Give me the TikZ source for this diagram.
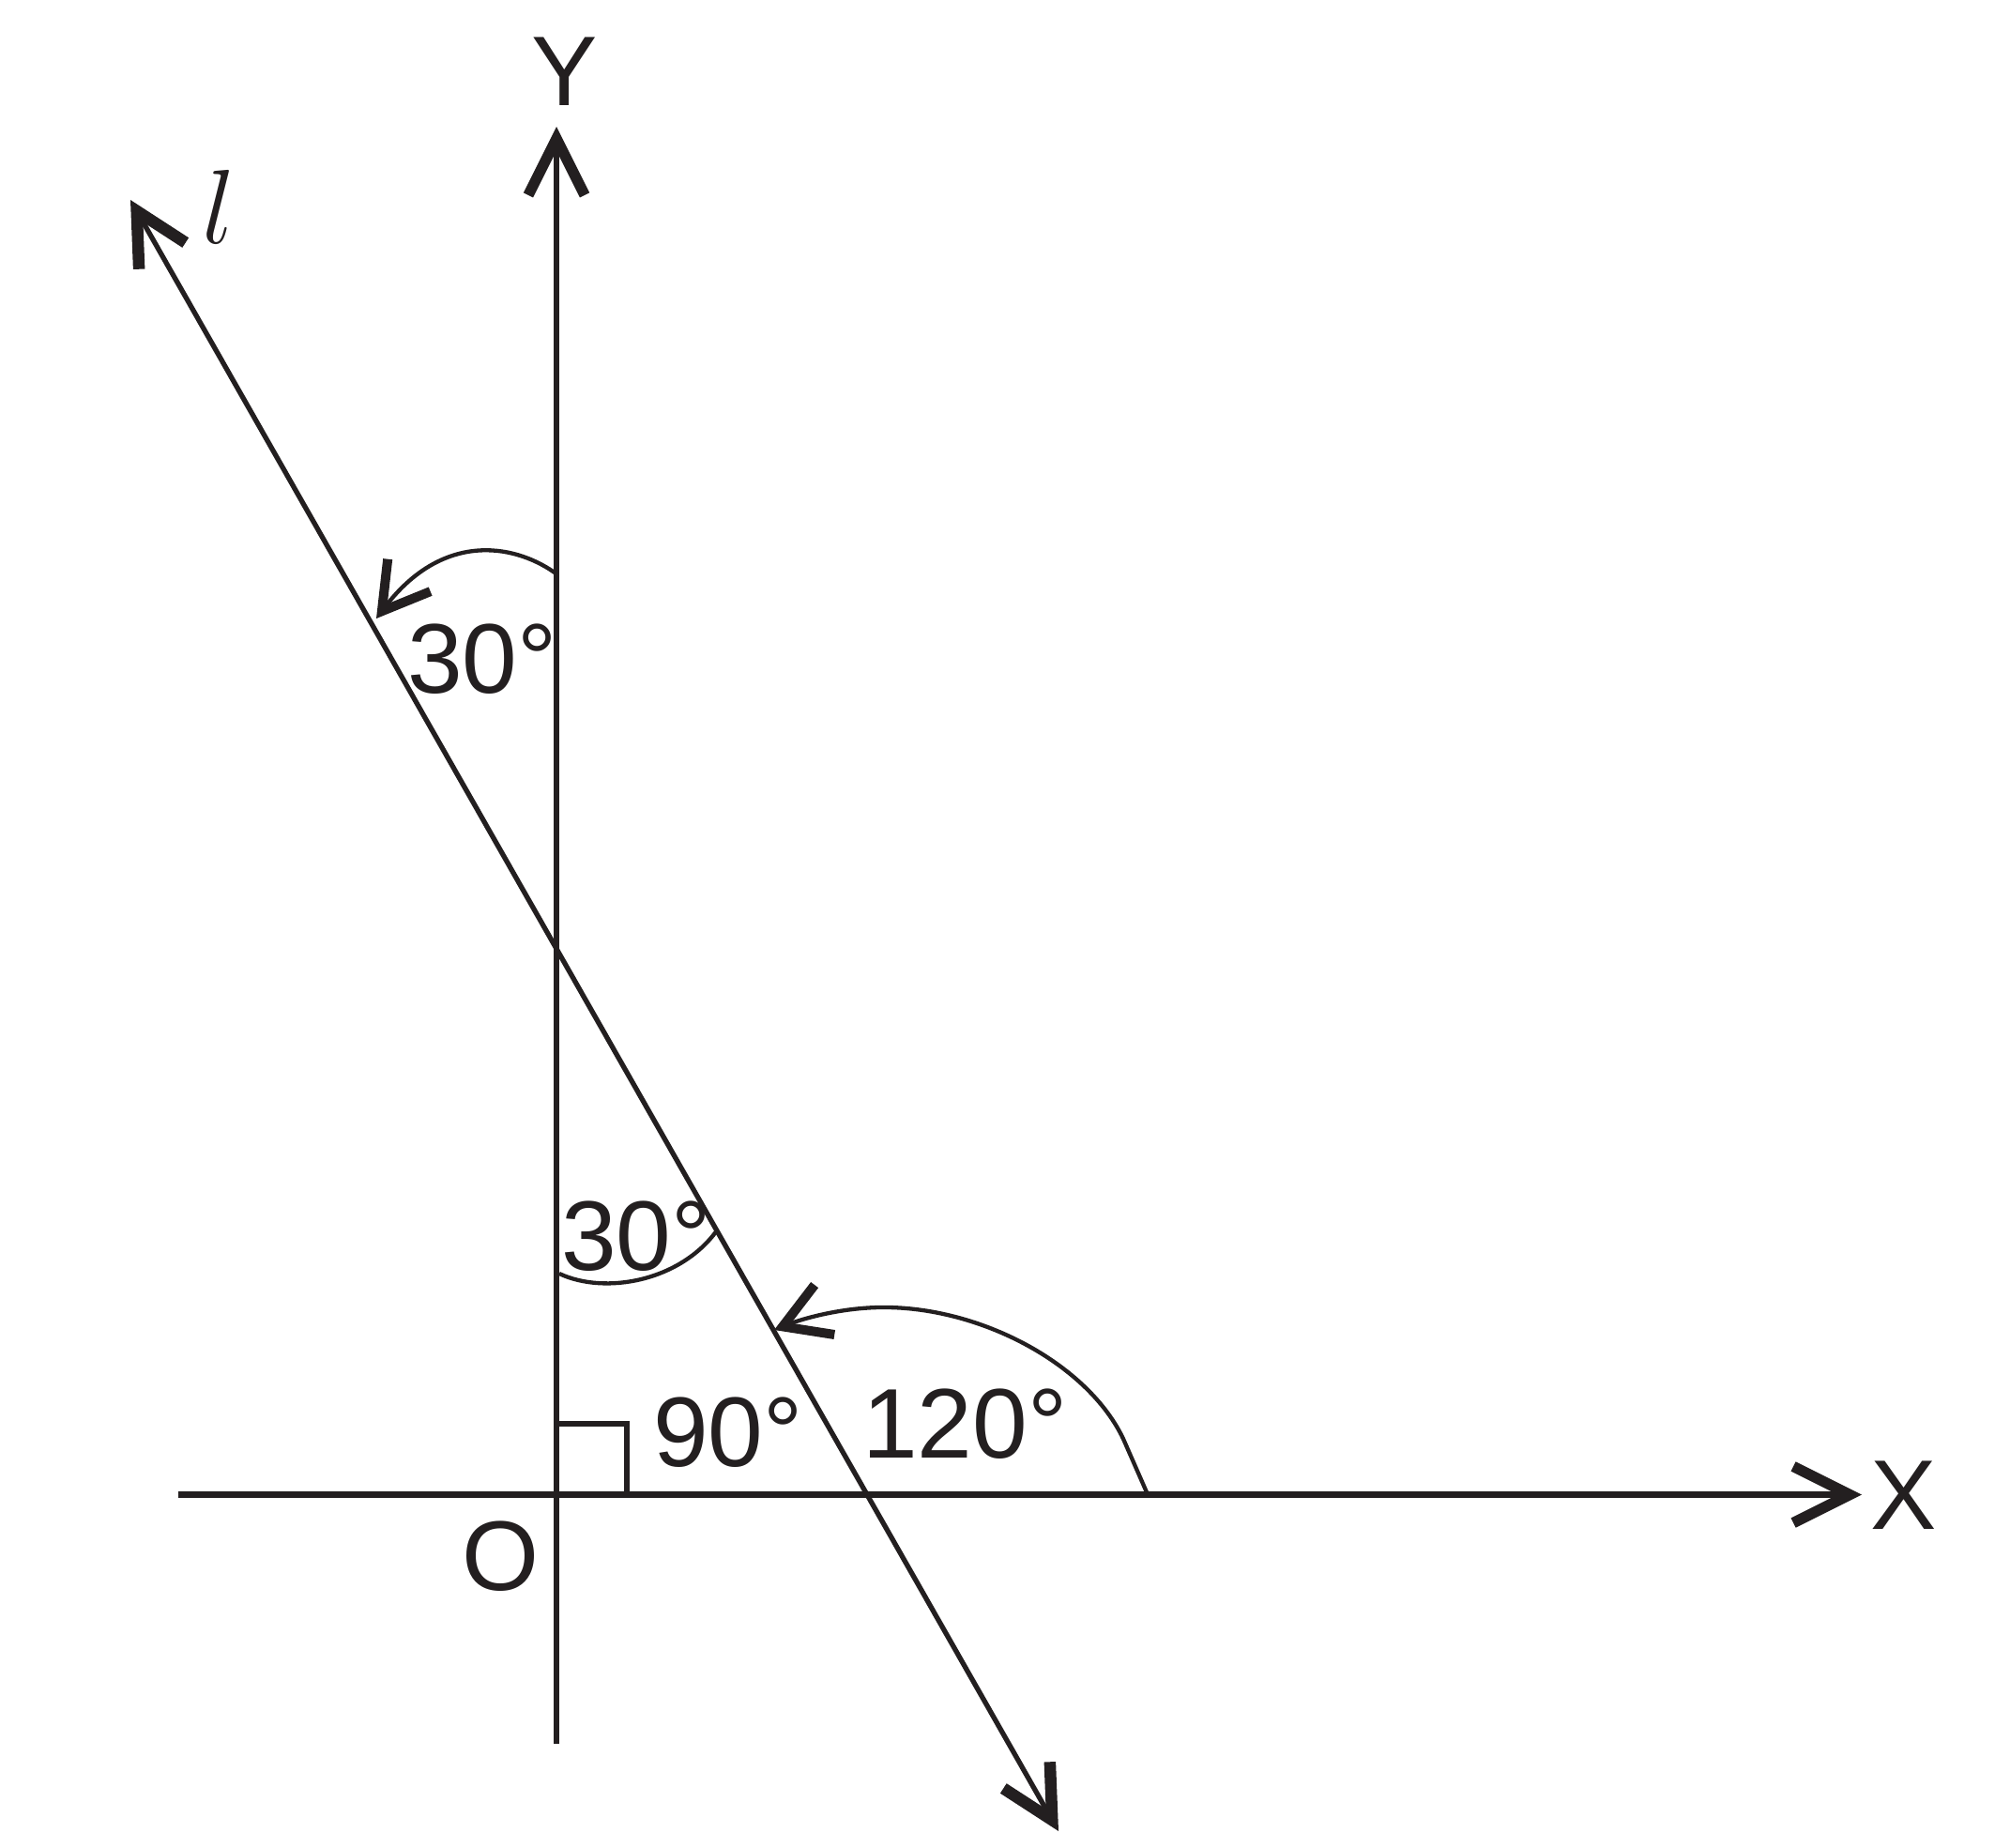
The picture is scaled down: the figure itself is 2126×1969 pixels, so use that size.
\RequirePackage{fix-cm}
\documentclass[tikz,border=0pt]{standalone}
\usepackage{fontspec}
\setmainfont{Liberation Sans}
\usetikzlibrary{arrows.meta}
\definecolor{ink}{HTML}{231F20}
\begin{document}
\begin{tikzpicture}[x=0.01cm, y=-0.01cm,
  axisline/.style={draw=ink, line width=0.066cm},
  lline/.style={draw=ink, line width=0.053cm},
  arcline/.style={draw=ink, line width=0.043cm},
  boxline/.style={draw=ink, line width=0.058cm},
  axtip/.tip={Straight Barb[length=0.6cm, width=0.6cm, line width=0.115cm]},
  ltip/.tip={Straight Barb[length=0.55cm, width=0.57cm, line width=0.125cm]},
  arctip/.tip={Straight Barb[length=0.48cm, width=0.57cm, line width=0.1cm]},
  lab/.style={text=ink, inner sep=0pt, font=\fontsize{30}{36}\selectfont}]
\useasboundingbox (0,0) rectangle (2126,1969);

% named points
\coordinate (O) at (593,1592.5);
\coordinate (Ytop) at (593,135);
\coordinate (Ybot) at (593,1858);
\coordinate (Xl) at (190,1592.5);
\coordinate (Xr) at (1984,1592.5);
\coordinate (Ltop) at (139,213);
\coordinate (Lbot) at (1128,1951);

% axes and line l
\draw[axisline, -axtip] (Ybot) -- (Ytop);
\draw[axisline, -axtip] (Xl) -- (Xr);
\draw[lline, ltip-ltip] (Lbot) -- (Ltop);

% right angle mark
\draw[boxline] (593,1517) -- (668,1517) -- (668,1592.5);

% angle arcs
\draw[arcline, -arctip] (591,610) .. controls (545,578) and (470,568) .. (401,659);
\draw[arcline] (596,1357) .. controls (645,1380) and (725,1365) .. (764,1311);
\draw[arcline, -arctip] (1222,1590) -- (1197,1533)
  .. controls (1160,1455) and (1050,1395) .. (947,1393)
  .. controls (900,1392) and (855,1405) .. (825,1417);

% labels
\node[lab, anchor=base west] (a30u) at (433.5,738) {30°};
\node[lab, anchor=base west] (a30l) at (597.5,1353.5) {30°};
\node[lab, anchor=base west] (a90) at (695.5,1562.5) {90°};
\node[lab, anchor=base west] (a120) at (918.5,1553) {120°};
\node[lab, anchor=base] (Ylab) at (602,112) {Y};
\node[lab, anchor=base] (Xlab) at (2029,1629) {X};
\node[lab, anchor=base] (Olab) at (534,1694) {O};
\node[text=ink, inner sep=0pt, anchor=base, font=\fontsize{32}{38}\selectfont] (llab) at (233,259) {$l$};
\end{tikzpicture}
\end{document}
